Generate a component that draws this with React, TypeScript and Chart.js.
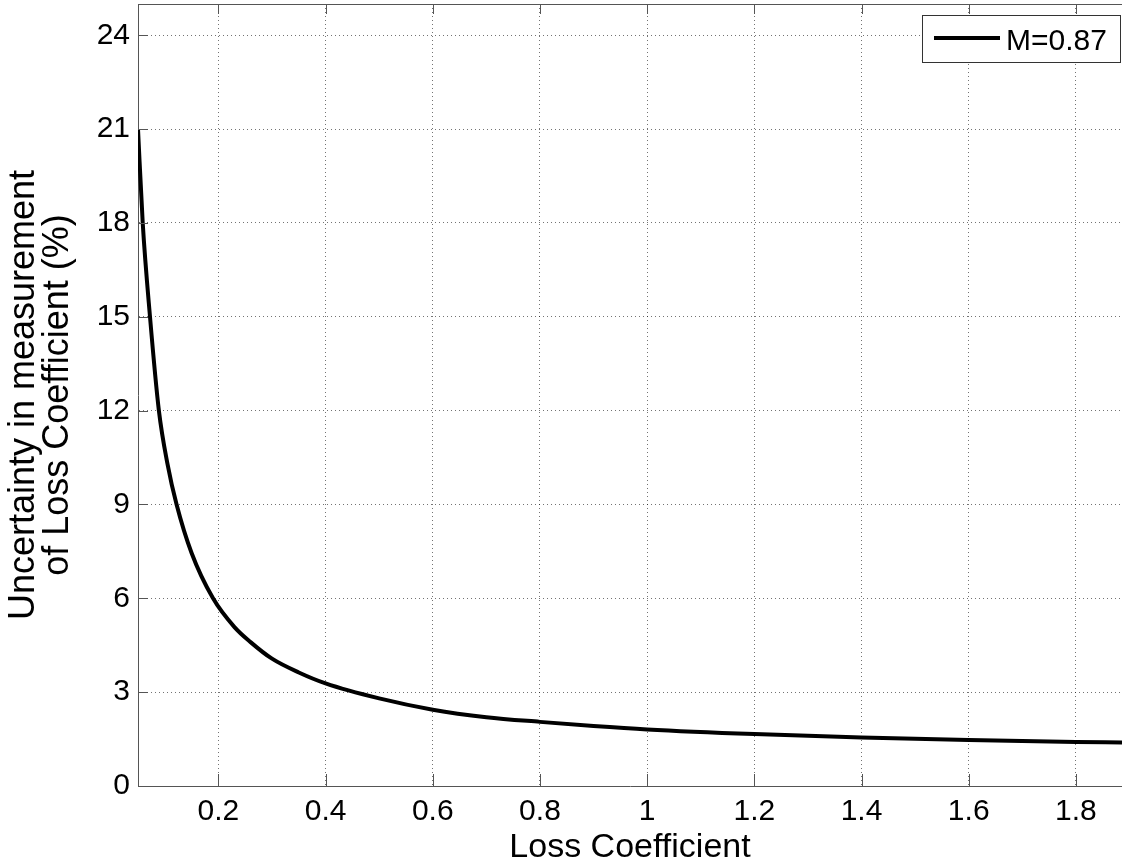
import React, { useEffect, useRef } from "react";
import { Chart, registerables } from "chart.js";

Chart.register(...registerables);

const lossCoefficient = [0.05, 0.0588, 0.0724, 0.089, 0.105, 0.122, 0.15, 0.19, 0.23, 0.26, 0.3, 0.35, 0.4, 0.5, 0.6, 0.7, 0.8, 0.9, 1.0, 1.2, 1.4, 1.6, 1.8, 1.886];
const uncertainty = [21.0, 18.0, 15.0, 12.0, 10.3, 9.0, 7.45, 6.0, 5.08, 4.6, 4.07, 3.63, 3.28, 2.8, 2.44, 2.2, 2.05, 1.92, 1.81, 1.66, 1.55, 1.47, 1.41, 1.39];
const xTicks = [0.2, 0.4, 0.6, 0.8, 1, 1.2, 1.4, 1.6, 1.8];
const yTicks = [0, 3, 6, 9, 12, 15, 18, 21, 24];
const seriesLabel = "M=0.87";
const xTitle = "Loss Coefficient";
const yTitle = ["Uncertainty in measurement", "of Loss Coefficient (%)"];

const FONT = "'Liberation Sans', Arial, sans-serif";
const AXIS_COLOR = "#555";
const GRID_COLOR = "rgba(0,0,0,0.55)";

const decorPlugin = {
  id: "decor",
  afterDraw(chart: any) {
    const { ctx, chartArea } = chart;
    const xs = chart.scales.x;
    const ys = chart.scales.y;
    ctx.save();
    ctx.strokeStyle = AXIS_COLOR;
    ctx.lineWidth = 1;
    ctx.setLineDash([]);
    ctx.beginPath();
    ctx.moveTo(chartArea.left, chartArea.top + 0.5);
    ctx.lineTo(chartArea.right, chartArea.top + 0.5);
    ctx.stroke();
    ctx.beginPath();
    for (const v of xTicks) {
      const px = Math.round(xs.getPixelForValue(v)) + 0.5;
      ctx.moveTo(px, chartArea.bottom);
      ctx.lineTo(px, chartArea.bottom - 12);
      ctx.moveTo(px, chartArea.top);
      ctx.lineTo(px, chartArea.top + 10);
    }
    for (const v of yTicks) {
      const py = Math.round(ys.getPixelForValue(v)) + 0.5;
      ctx.moveTo(chartArea.left, py);
      ctx.lineTo(chartArea.left + 10, py);
    }
    ctx.stroke();

    const bx = 922, by = 15, bw = 198, bh = 47;
    ctx.fillStyle = "#fff";
    ctx.fillRect(bx, by, bw, bh);
    ctx.strokeStyle = "#333";
    ctx.strokeRect(bx + 0.5, by + 0.5, bw, bh);
    ctx.strokeStyle = "#000";
    ctx.lineWidth = 4;
    ctx.beginPath();
    ctx.moveTo(934, 38);
    ctx.lineTo(1000, 38);
    ctx.stroke();
    ctx.fillStyle = "#000";
    ctx.font = `30px ${FONT}`;
    ctx.textBaseline = "alphabetic";
    ctx.textAlign = "left";
    ctx.fillText(seriesLabel, 1006, 50);
    ctx.restore();
  },
};

export default function App() {
  const canvasRef = useRef<HTMLCanvasElement | null>(null);

  useEffect(() => {
    if (!canvasRef.current) return;
    const points = lossCoefficient.map((x, i) => ({ x, y: uncertainty[i] }));
    const chart = new Chart(canvasRef.current, {
      type: "line",
      data: {
        datasets: [
          {
            label: seriesLabel,
            data: points,
            borderColor: "#000",
            borderWidth: 4,
            pointRadius: 0,
            cubicInterpolationMode: "monotone",
            fill: false,
          },
        ],
      },
      options: {
        animation: false,
        responsive: false,
        maintainAspectRatio: false,
        layout: { padding: { top: 4, right: 0, bottom: 0, left: 0 } },
        plugins: { legend: { display: false }, tooltip: { enabled: false } },
        scales: {
          x: {
            type: "linear",
            min: 0.05,
            max: 1.886,
            afterBuildTicks: (s: any) => {
              s.ticks = xTicks.map((v) => ({ value: v }));
            },
            afterFit: (s: any) => {
              s.height = 82;
              s.paddingLeft = 0;
              s.paddingRight = 0;
            },
            grid: { color: GRID_COLOR, lineWidth: 1, drawTicks: false, tickLength: 0 },
            border: { display: true, color: AXIS_COLOR, width: 1, dash: [1, 3] },
            ticks: {
              color: "#000",
              padding: 8,
              maxRotation: 0,
              autoSkip: false,
              font: { family: FONT, size: 30 },
              callback: (v: any) => String(v),
            },
            title: {
              display: true,
              text: xTitle,
              color: "#000",
              font: { family: FONT, size: 34, lineHeight: 1.0 },
              padding: { top: 0, bottom: 3 },
            },
          },
          y: {
            min: 0,
            max: 25,
            afterBuildTicks: (s: any) => {
              s.ticks = yTicks.map((v) => ({ value: v }));
            },
            afterFit: (s: any) => {
              s.width = 138;
              s.paddingTop = 0;
              s.paddingBottom = 0;
            },
            grid: { color: GRID_COLOR, lineWidth: 1, drawTicks: false, tickLength: 0 },
            border: { display: true, color: AXIS_COLOR, width: 1, dash: [1, 3] },
            ticks: {
              color: "#000",
              padding: 8,
              autoSkip: false,
              font: { family: FONT, size: 30 },
              callback: (v: any) => String(v),
            },
            title: {
              display: true,
              text: yTitle,
              color: "#000",
              font: { family: FONT, size: 36, lineHeight: 0.92 },
              padding: { top: 8, bottom: 0 },
            },
          },
        },
      },
      plugins: [decorPlugin],
    } as any);
    return () => chart.destroy();
  }, []);

  return (
    <div style={{ position: "fixed", left: 0, top: 0, width: 1122, height: 868, background: "#fff" }}>
      <canvas ref={canvasRef} width={1122} height={868} style={{ width: 1122, height: 868 }} />
    </div>
  );
}
